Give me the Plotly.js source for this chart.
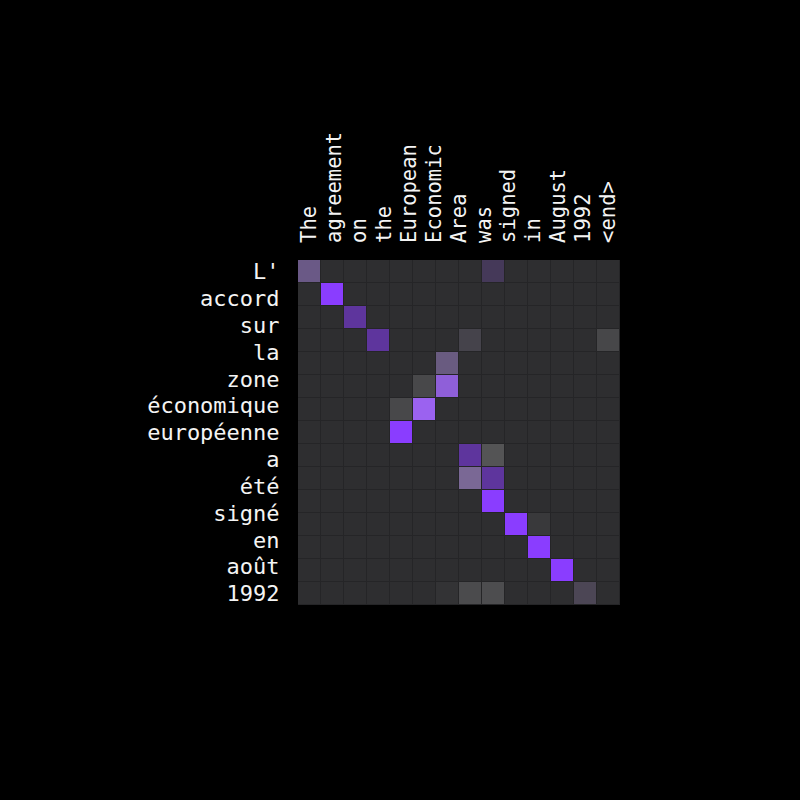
<!DOCTYPE html>
<html>
<head>
<meta charset="utf-8">
<script src="https://cdn.plot.ly/plotly-3.0.1.min.js"></script>
<style>html,body{margin:0;padding:0;background:#000;}</style>
</head>
<body>
<div id="chart" style="width:800px;height:800px;"></div>
<script>
const xLabels = ["The","agreement","on","the","European","Economic","Area","was","signed","in","August","1992","<end>"];
const yLabels = ["L'","accord","sur","la","zone","économique","européenne","a","été","signé","en","août","1992"];

// grey layer weights (15 rows x 14 columns)
const greyWeights = [
  [0.25,0,0,0,0,0,0,0,0.05,0,0,0,0,0],
  [0,0,0,0,0,0,0,0,0,0,0,0,0,0],
  [0,0,0,0,0,0,0,0,0,0,0,0,0,0],
  [0,0,0,0,0,0,0,0.105,0,0,0,0,0,0.12],
  [0,0,0,0,0,0,0.25,0,0,0,0,0,0,0],
  [0,0,0,0,0,0.125,0.5,0,0,0,0,0,0,0],
  [0,0,0,0,0.125,0.73,0,0,0,0,0,0,0,0],
  [0,0,0,0,0,0,0,0,0,0,0,0,0,0],
  [0,0,0,0,0,0,0,0,0.18,0,0,0,0,0],
  [0,0,0,0,0,0,0,0.34,0,0,0,0,0,0],
  [0,0,0,0,0,0,0,0,0,0,0,0,0,0],
  [0,0,0,0,0,0,0,0,0,0,0.055,0,0,0],
  [0,0,0,0,0,0,0,0,0,0,0,0,0,0],
  [0,0,0,0,0,0,0,0,0,0,0,0,0,0],
  [0,0,0,0,0,0,0.025,0.14,0.15,0,0,0,0.12,0]
];

// attention (purple) weights (15 rows x 14 columns)
const attnWeights = [
  [0.22,0,0,0,0,0,0,0,0.16,0,0,0,0,0],
  [0,1,0,0,0,0,0,0,0,0,0,0,0,0],
  [0,0,0.53,0,0,0,0,0,0,0,0,0,0,0],
  [0,0,0,0.53,0,0,0,0.03,0,0,0,0,0,0],
  [0,0,0,0,0,0,0.18,0,0,0,0,0,0,0],
  [0,0,0,0,0,0,0.63,0,0,0,0,0,0,0],
  [0,0,0,0,0,0.73,0,0,0,0,0,0,0,0],
  [0,0,0,0,1,0,0,0,0,0,0,0,0,0],
  [0,0,0,0,0,0,0,0.53,0,0,0,0,0,0],
  [0,0,0,0,0,0,0,0.23,0.53,0,0,0,0,0],
  [0,0,0,0,0,0,0,0,1,0,0,0,0,0],
  [0,0,0,0,0,0,0,0,0,1,0,0,0,0],
  [0,0,0,0,0,0,0,0,0,0,1,0,0,0],
  [0,0,0,0,0,0,0,0,0,0,0,1,0,0],
  [0,0,0,0,0,0,0,0,0,0,0,0,0.07,0]
];

const nRows = greyWeights.length;
const nCols = greyWeights[0].length;
const xTickVals = xLabels.map((_, i) => i * (nCols - 1) / (xLabels.length - 1));
const yTickVals = yLabels.map((_, i) => i * (nRows - 1) / (yLabels.length - 1));

const traces = [
  {
    type: 'heatmap',
    z: greyWeights,
    zmin: 0, zmax: 1,
    colorscale: [[0, '#2e2e30'], [1, '#ffffff']],
    showscale: false,
    xgap: 1, ygap: 1,
    hoverinfo: 'skip'
  },
  {
    type: 'heatmap',
    z: attnWeights,
    zmin: 0, zmax: 1,
    colorscale: [[0, 'rgba(138,61,255,0)'], [1, 'rgba(138,61,255,1)']],
    showscale: false,
    xgap: 1, ygap: 1,
    hoverinfo: 'skip'
  }
];

const layout = {
  width: 800, height: 800,
  paper_bgcolor: '#000000',
  plot_bgcolor: '#252527',
  margin: {l: 298, r: 180, t: 260, b: 195},
  showlegend: false,
  xaxis: {
    range: [-0.5, nCols - 0.5],
    side: 'top',
    tickmode: 'array',
    tickvals: xTickVals,
    ticktext: xLabels,
    tickangle: -90,
    ticks: 'outside', ticklen: 12, tickcolor: 'rgba(0,0,0,0)',
    tickfont: {family: 'DejaVu Sans Mono', size: 20.5, color: '#f4f4f4'},
    showgrid: false, zeroline: false, showline: false, fixedrange: true
  },
  yaxis: {
    range: [nRows - 0.5, -0.5],
    tickmode: 'array',
    tickvals: yTickVals,
    ticktext: yLabels,
    ticks: 'outside', ticklen: 13, tickcolor: 'rgba(0,0,0,0)',
    tickfont: {family: 'DejaVu Sans Mono', size: 22, color: '#f4f4f4'},
    showgrid: false, zeroline: false, showline: false, fixedrange: true
  }
};

Plotly.newPlot('chart', traces, layout, {displayModeBar: false, staticPlot: true});
</script>
</body>
</html>
